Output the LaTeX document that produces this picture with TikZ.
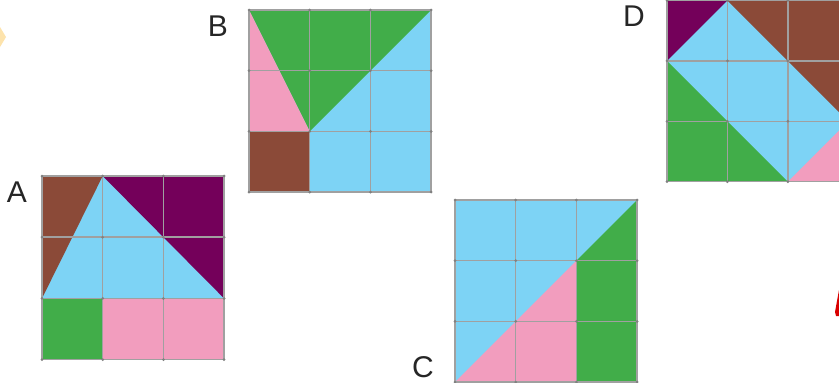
\documentclass[tikz,border=0pt]{standalone}
\usepackage{fontspec}
\setmainfont{Liberation Sans}
\definecolor{sky}{HTML}{7DD3F5}
\definecolor{grn}{HTML}{41AD49}
\definecolor{pnk}{HTML}{F29DBE}
\definecolor{brn}{HTML}{8B4A38}
\definecolor{plum}{HTML}{74005A}
\definecolor{gridgray}{HTML}{A0A0A0}
\tikzset{
  gridline/.style={draw=gridgray, line width=1.5pt},
  griddot/.style={fill=gridgray!80!black},
  lbl/.style={font=\fontsize{30}{30}\selectfont, text=black!85, inner sep=0pt},
}
\newcommand{\gridthree}{%
  \foreach \k in {0,1,2,3} {
    \draw[gridline] (\k,0) -- (\k,3);
    \draw[gridline] (0,\k) -- (3,\k);
  }
  \foreach \i in {0,1,2,3} \foreach \j in {0,1,2,3} {
    \fill[griddot] (\i,\j) circle[radius=1.5pt];
  }
}
\begin{document}
\begin{tikzpicture}[x=1pt,y=-1pt]
\useasboundingbox (0,0) rectangle (839,383);
\fill[white] (0,0) rectangle (839,383);
% partial shapes at the edges
\fill[yellow!35!orange!30] (0,27) -- (6,37) -- (0,47) -- cycle;
\fill[red!85!black] (839,290) -- (835,312) -- (836,316) -- (839,316) -- cycle;

% ---- A ----
\begin{scope}[shift={(42,176)}, x=60.7pt, y=-61.2pt]
  \fill[sky] (0,0) rectangle (3,2);
  \fill[brn] (0,0) -- (1,0) -- (0,2) -- cycle;
  \fill[plum] (1,0) -- (3,0) -- (3,2) -- cycle;
  \fill[grn] (0,2) rectangle (1,3);
  \fill[pnk] (1,2) rectangle (3,3);
  \draw[sky, line width=1.2pt] (0,0) -- (3,0);
  \gridthree
\end{scope}
\node[lbl] (la) at (17,192) {A};

% ---- B ----
\begin{scope}[shift={(249,10)}, x=60.7pt, y=-60.7pt]
  \fill[sky] (0,0) rectangle (3,3);
  \fill[grn] (0,0) -- (3,0) -- (1,2) -- cycle;
  \fill[pnk] (0,0) -- (1,2) -- (0,2) -- cycle;
  \fill[brn] (0,2) rectangle (1,3);
  \gridthree
\end{scope}
\node[lbl] (lb) at (218,26) {B};

% ---- C ----
\begin{scope}[shift={(455,200)}, x=60.7pt, y=-60.7pt]
  \fill[sky] (0,0) rectangle (3,3);
  \fill[grn] (3,0) -- (3,3) -- (2,3) -- (2,1) -- cycle;
  \fill[pnk] (2,1) -- (2,3) -- (0,3) -- cycle;
  \gridthree
\end{scope}
\node[lbl] (lc) at (423,367) {C};

% ---- D ----
\begin{scope}[shift={(667,0.5)}, x=60.4pt, y=-60.4pt]
  \fill[sky] (0,0) rectangle (3,3);
  \fill[plum] (0,0) -- (1,0) -- (0,1) -- cycle;
  \fill[brn] (1,0) -- (3,0) -- (3,2) -- cycle;
  \fill[grn] (0,1) -- (2,3) -- (0,3) -- cycle;
  \fill[pnk] (2,3) -- (3,2) -- (3,3) -- cycle;
  \gridthree
\end{scope}
\node[lbl] (ld) at (634,16) {D};
\end{tikzpicture}
\end{document}
